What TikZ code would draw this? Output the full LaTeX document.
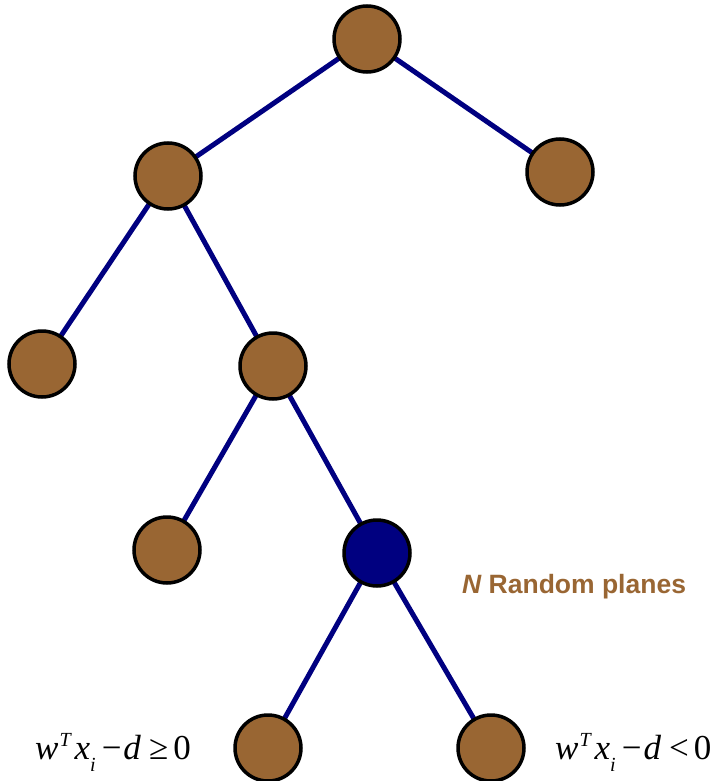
\documentclass[tikz,border=0pt]{standalone}
\usepackage{fontspec}
\usetikzlibrary{backgrounds}
\newfontfamily\arialfont{Liberation Sans}
\newfontfamily\timesfont{Liberation Serif}
\definecolor{nodebrown}{HTML}{996633}
\definecolor{edgenavy}{HTML}{000080}
\newcommand{\supT}{\raisebox{13pt}{\fontsize{20}{20}\selectfont\itshape T}}
\newcommand{\subi}{\raisebox{-12pt}{\fontsize{20}{20}\selectfont\itshape i}}
\newcommand{\lhsexpr}{\textit{w}\kern1pt\supT\kern4pt\textit{x}\subi\kern6pt −\kern2pt\textit{d}\kern8pt}
\begin{document}
\begin{tikzpicture}[x=1pt,y=-1pt,
  treenode/.style={circle,draw=black,line width=3.5pt,fill=nodebrown,minimum size=66pt,inner sep=0pt},
  edge/.style={draw=edgenavy,line width=5pt},
  formula/.style={font=\timesfont\fontsize{35}{38}\selectfont,inner sep=0pt,anchor=base west}]
\useasboundingbox (0,0) rectangle (713,781);
\node[treenode] (root) at (367,39) {};
\node[treenode] (l) at (168,176) {};
\node[treenode] (r) at (560,172) {};
\node[treenode] (ll) at (42,364) {};
\node[treenode] (lr) at (273,366) {};
\node[treenode] (lrl) at (167,550) {};
\node[treenode,fill=edgenavy] (lrr) at (377,553) {};
\node[treenode] (lrrl) at (268,748) {};
\node[treenode] (lrrr) at (491,748) {};
\begin{scope}[on background layer]
\draw[edge] (root.center) -- (l.center);
\draw[edge] (root.center) -- (r.center);
\draw[edge] (l.center) -- (ll.center);
\draw[edge] (l.center) -- (lr.center);
\draw[edge] (lr.center) -- (lrl.center);
\draw[edge] (lr.center) -- (lrr.center);
\draw[edge] (lrr.center) -- (lrrl.center);
\draw[edge] (lrr.center) -- (lrrr.center);
\end{scope}
\node[formula] (fl) at (35,759) {\lhsexpr≥\kern5pt0};
\node[formula] (fr) at (555,759) {\lhsexpr<\kern5pt0};
\node[font=\arialfont\bfseries\fontsize{26.5}{29}\selectfont,text=nodebrown,inner sep=0pt,anchor=base west] (lab) at (462,593) {\itshape N\upshape\ Random planes};
\end{tikzpicture}
\end{document}
